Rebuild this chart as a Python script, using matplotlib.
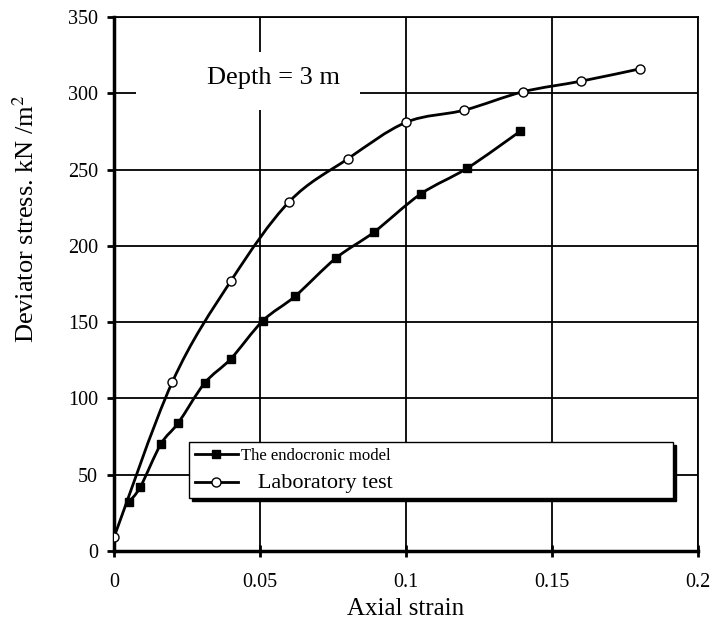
import matplotlib
matplotlib.use('Agg')
import matplotlib.pyplot as plt
import numpy as np
from matplotlib.path import Path
from matplotlib.patches import PathPatch, Rectangle
from matplotlib.lines import Line2D

plt.rcParams['font.family'] = ['Liberation Serif', 'DejaVu Serif']
plt.rcParams['mathtext.fontset'] = 'stix'

# endochronic model prediction
model_strain = [0.005, 0.009, 0.016, 0.022, 0.031, 0.040, 0.051, 0.062,
                0.076, 0.089, 0.105, 0.121, 0.139]
model_stress = [32, 42, 70, 84, 110, 126, 151, 167, 192, 209, 234, 251, 275]

# triaxial laboratory test
lab_strain = [0.0, 0.02, 0.04, 0.06, 0.08, 0.10, 0.12, 0.14, 0.16, 0.18]
lab_stress = [9, 111, 177, 229, 257, 281, 289, 301, 308, 316]

x_ticks = [0, 0.05, 0.1, 0.15, 0.2]
x_tick_labels = ['0', '0.05', '0.1', '0.15', '0.2']
y_ticks = [0, 50, 100, 150, 200, 250, 300, 350]


def smooth_path(xs, ys):
    """Bezier path through the points, spreadsheet-style smoothing."""
    pts = np.column_stack([xs, ys]).astype(float)
    n = len(pts)
    verts = [pts[0]]
    codes = [Path.MOVETO]
    for i in range(n - 1):
        p0 = pts[i - 1] if i > 0 else pts[i]
        p1, p2 = pts[i], pts[i + 1]
        p3 = pts[i + 2] if i + 2 < n else pts[i + 1]
        c1 = p1 + (p2 - p0) / 6.0
        c2 = p2 - (p3 - p1) / 6.0
        verts += [c1, c2, p2]
        codes += [Path.CURVE4] * 3
    return Path(verts, codes)


fig = plt.figure(figsize=(7.13, 6.23), dpi=100)
ax = fig.add_axes([0.16, 0.1156, 0.819, 0.857])

for xs, ys in [(lab_strain, lab_stress), (model_strain, model_stress)]:
    ax.add_patch(PathPatch(smooth_path(xs, ys), facecolor='none',
                           edgecolor='black', lw=2.0, zorder=3,
                           capstyle='round', joinstyle='round'))

ax.plot(model_strain, model_stress, ls='none', marker='s', ms=6.3,
        mfc='black', mec='black', zorder=4)
ax.plot(lab_strain, lab_stress, ls='none', marker='o', ms=6.5,
        mfc='white', mec='black', mew=1.0, zorder=4)

ax.set_xlim(0, 0.2)
ax.set_ylim(0, 350)
ax.set_xticks(x_ticks)
ax.set_xticklabels(x_tick_labels)
ax.set_yticks(y_ticks)
ax.tick_params(labelsize=14.5, width=2, length=5, direction='out')
ax.tick_params(axis='y', pad=6.5)
ax.tick_params(axis='x', direction='inout', length=8, pad=12)
ax.grid(True, color='black', lw=1.3)
ax.set_axisbelow(True)
for side in ['left', 'bottom']:
    ax.spines[side].set_linewidth(2.5)
for side in ['top', 'right']:
    ax.spines[side].set_linewidth(1.3)

ax.set_xlabel('Axial strain', fontsize=18, labelpad=4)
ax.set_ylabel('Deviator stress. kN /m$^2$', fontsize=19)
ax.yaxis.set_label_coords(-0.128, 0.622)

# label with a white panel over the grid
ax.add_patch(Rectangle((0.0075, 289), 0.0767, 38, facecolor='white',
                       edgecolor='none', zorder=1))
ax.text(0.0547, 310, 'Depth = 3 m', fontsize=19, ha='center', va='center',
        zorder=2)

handles = [
    Line2D([], [], color='black', lw=2.0, marker='s', ms=6.3, mfc='black'),
    Line2D([], [], color='black', lw=2.0, marker='o', ms=6.5, mfc='white',
           mew=1.0),
]
leg = ax.legend(handles, ['The endocronic model', '   Laboratory test'],
                loc='upper left', bbox_to_anchor=(0.128, 0.0955, 0.829, 0.109),
                mode='expand', borderaxespad=0, fancybox=False,
                shadow={'color': 'black', 'alpha': 1}, framealpha=1,
                edgecolor='black', fontsize=12, handlelength=2.6,
                handletextpad=0.2, borderpad=0.35, labelspacing=0.6)
leg.get_frame().set_linewidth(1.0)
leg.get_texts()[1].set_fontsize(16)

fig.savefig('out.png', dpi=100)
